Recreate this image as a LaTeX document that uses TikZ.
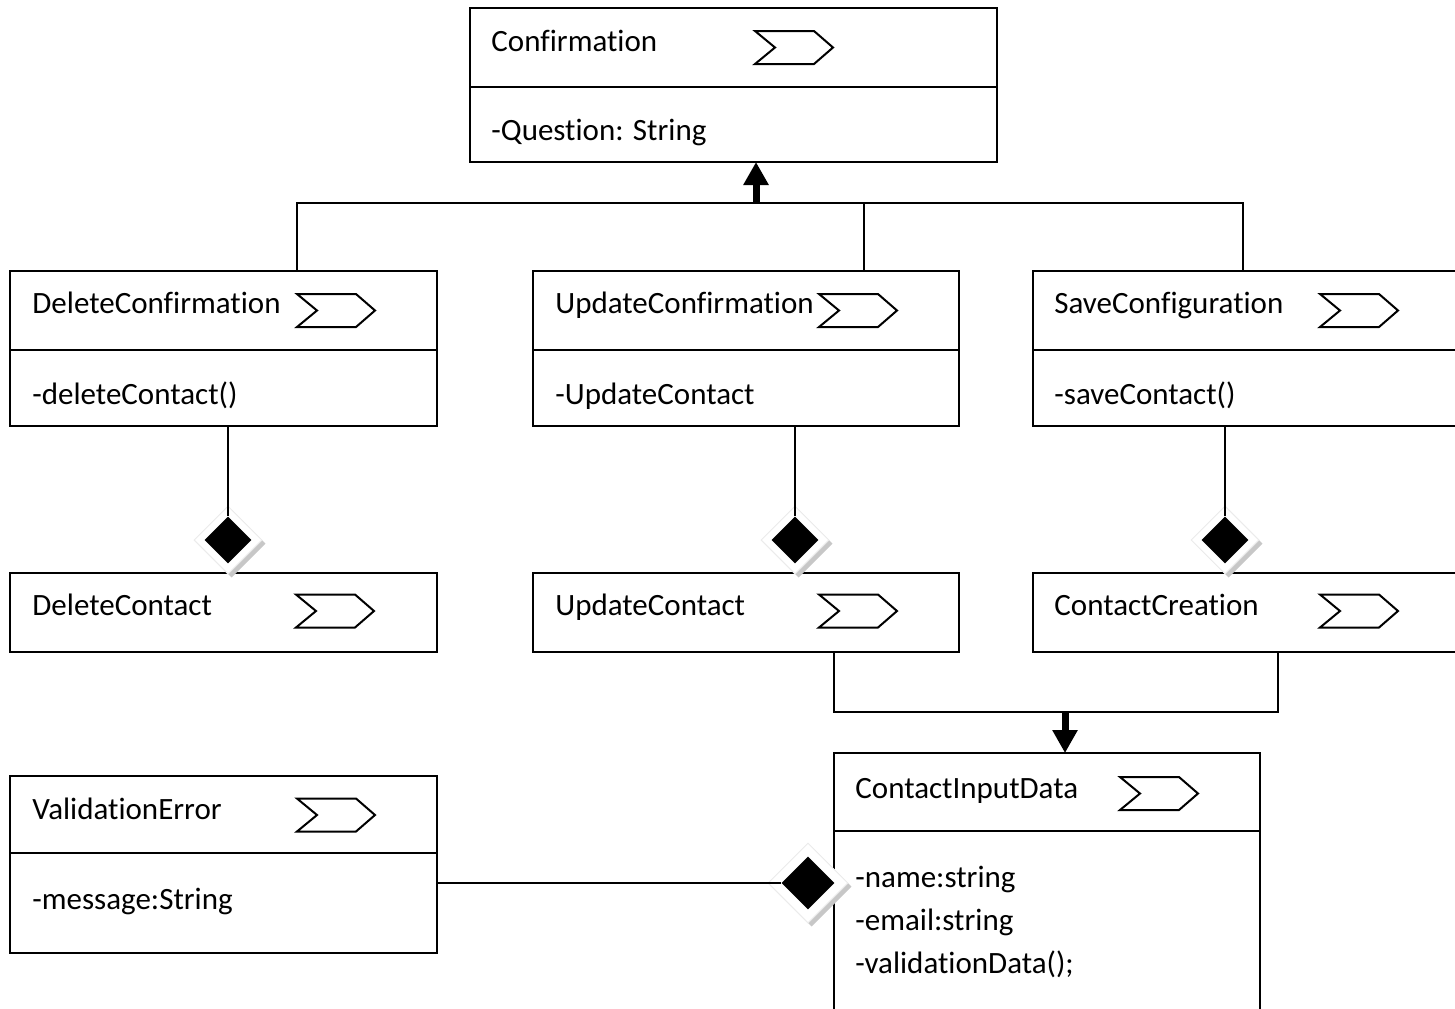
\documentclass[tikz,border=0pt]{standalone}
\usepackage{fontspec}
\setmainfont{Carlito}[Ligatures={NoCommon}]
\usetikzlibrary{arrows.meta,shapes.geometric,shadows}
\begin{document}
\begin{tikzpicture}[x=0.5pt,y=-0.5pt,
  box/.style={draw, line width=1pt, inner sep=0pt, outer sep=0pt, anchor=north west},
  txt/.style={anchor=base west, inner sep=0pt, font=\fontsize{15.5}{18}\selectfont},
  conn/.style={line width=1pt},
  inh/.style={line width=3.5pt, -{Triangle[width=12pt,length=11.5pt]}},
  dbg/.style={shape=diamond, fill=white, draw=black!8, line width=0.5pt, inner sep=0pt, minimum width=#1, minimum height=#1,
              drop shadow={shadow xshift=1.8pt, shadow yshift=-1.8pt, fill=black!22, opacity=1}},
  dfg/.style={shape=diamond, fill=black, inner sep=0pt, minimum width=#1, minimum height=#1},
  chevron/.pic={\draw[line width=1pt, line join=miter] (0,-16.5) -- (59,-16.5) -- (78,0) -- (59,16.5) -- (0,16.5) -- (20,0) -- cycle;}
]
\useasboundingbox (0,0) rectangle (1455,1008);
\clip (0,0) rectangle (1455,1008);
\fill[white] (0,0) rectangle (1455,1008);

% ---------- boxes ----------
\node[box, minimum width=263.5pt, minimum height=77pt]   (conf)  at (470,8)   {};
\node[box, minimum width=213.5pt, minimum height=77.5pt] (dconf) at (10,271)  {};
\node[box, minimum width=213pt,   minimum height=77.5pt] (uconf) at (533,271) {};
\node[box, minimum width=220pt,   minimum height=77.5pt] (sconf) at (1033,271) {};
\node[box, minimum width=213.5pt, minimum height=39.5pt] (dcon)  at (10,573)  {};
\node[box, minimum width=213pt,   minimum height=39.5pt] (ucon)  at (533,573) {};
\node[box, minimum width=220pt,   minimum height=39.5pt] (ccre)  at (1033,573) {};
\node[box, minimum width=213.5pt, minimum height=88.5pt] (verr)  at (10,776)  {};
\node[box, minimum width=213pt,   minimum height=140pt]  (cid)   at (834,753) {};

% dividers
\draw[conn] (470,87) -- (997,87);
\draw[conn] (10,350) -- (437,350);
\draw[conn] (533,350) -- (959,350);
\draw[conn] (1033,350) -- (1473,350);
\draw[conn] (10,853) -- (437,853);
\draw[conn] (834,831) -- (1260,831);

% ---------- texts ----------
\node[txt] (t1)  at (491,51)   {Confirmation};
\node[txt] (t2)  at (491,140)  {-Question: String};
\node[txt] (t3)  at (32,313)   {DeleteConfirmation};
\node[txt] (t4)  at (32,404)   {-deleteContact()};
\node[txt] (t5)  at (555,313)  {UpdateConfirmation};
\node[txt] (t6)  at (555,404)  {-UpdateContact};
\node[txt] (t7)  at (1054,313) {SaveConfiguration};
\node[txt] (t8)  at (1054,404) {-saveContact()};
\node[txt] (t9)  at (32,615)   {DeleteContact};
\node[txt] (t10) at (555,615)  {UpdateContact};
\node[txt] (t11) at (1054,615) {ContactCreation};
\node[txt] (t12) at (32,819)   {ValidationError};
\node[txt] (t13) at (32,909)   {-message:String};
\node[txt] (t14) at (855,798)  {ContactInputData};
\node[txt] (t15) at (855,887)  {-name:string};
\node[txt] (t16) at (855,930)  {-email:string};
\node[txt] (t17) at (855,973)  {-validationData();};

% ---------- stereotype chevrons ----------
\pic at (755,47.5)  {chevron};
\pic at (297,310.5) {chevron};
\pic at (819,310.5) {chevron};
\pic at (1320,310.5) {chevron};
\pic at (296,611)   {chevron};
\pic at (819,611)   {chevron};
\pic at (1320,611)  {chevron};
\pic at (297,815)   {chevron};
\pic at (1120,793.5) {chevron};

% ---------- generalisation: Confirmation ----------
\coordinate (gA) at (756,203);
\coordinate (gL) at (297,203);
\coordinate (gM) at (864,203);
\coordinate (gR) at (1243,203);
\draw[conn] (dconf.north -| gL) -- (gL) -- (gR) -- (sconf.north -| gR);
\draw[conn] (uconf.north -| gM) -- (gM);
\draw[inh] (gA) -- (conf.south -| gA);

% ---------- generalisation: ContactInputData ----------
\coordinate (hL) at (834,712);
\coordinate (hR) at (1278,712);
\coordinate (hA) at (1065,712);
\draw[conn] (ucon.south -| hL) -- (hL) -- (hR) -- (ccre.south -| hR);
\draw[inh] (hA) -- (cid.north -| hA);

% ---------- compositions ----------
\node[dbg=34pt] (w1) at (228,540) {};
\node[dbg=34pt] (w2) at (795,540) {};
\node[dbg=34pt] (w3) at (1225,540) {};
\node[dbg=40pt] (w4) at (808,883) {};

\node[dfg=23.5pt] (k1) at (228,540) {};
\node[dfg=23.5pt] (k2) at (795,540) {};
\node[dfg=23.5pt] (k3) at (1225,540) {};
\node[dfg=26.5pt] (k4) at (808,883) {};

\draw[conn] (dconf.south -| k1) -- (k1.north);
\draw[conn] (uconf.south -| k2) -- (k2.north);
\draw[conn] (sconf.south -| k3) -- (k3.north);
\draw[conn] (verr.east |- k4) -- (k4.west);
\end{tikzpicture}
\end{document}
